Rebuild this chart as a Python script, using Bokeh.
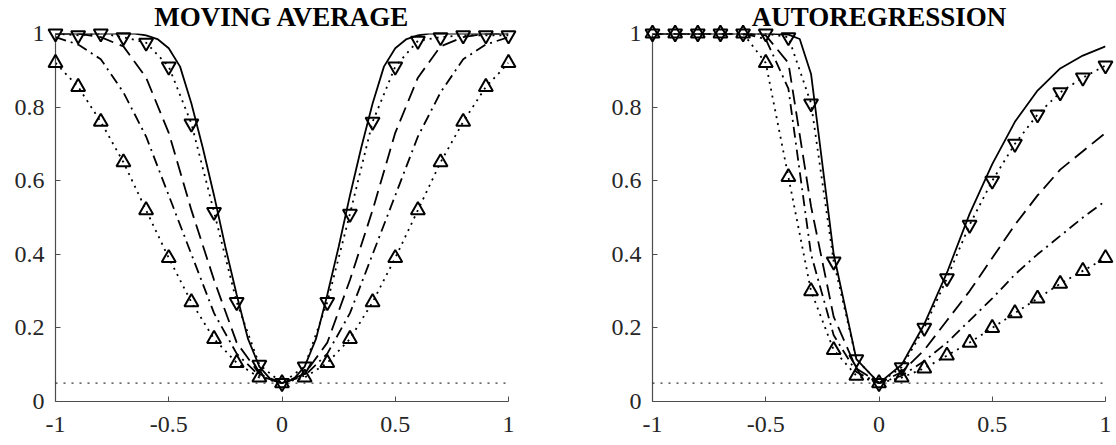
from bokeh.plotting import figure
from bokeh.layouts import row
from bokeh.models import Range1d, FixedTicker, CustomJSTickFormatter, Title, Span
from bokeh.embed import file_html
from bokeh.resources import INLINE

# ---------------- data ----------------
X = [-1.0, -0.9, -0.8, -0.7, -0.6, -0.5, -0.4, -0.3, -0.2, -0.1, 0.0,
     0.1, 0.2, 0.3, 0.4, 0.5, 0.6, 0.7, 0.8, 0.9, 1.0]
X_FINE = [-1.0, -0.95, -0.9, -0.85, -0.8, -0.75, -0.7, -0.65, -0.6, -0.55, -0.5,
          -0.45, -0.4, -0.35, -0.3, -0.25, -0.2, -0.15, -0.1, -0.05, 0.0,
          0.05, 0.1, 0.15, 0.2, 0.25, 0.3, 0.35, 0.4, 0.45, 0.5,
          0.55, 0.6, 0.65, 0.7, 0.75, 0.8, 0.85, 0.9, 0.95, 1.0]

# Moving average panel
ma_solid = [1.0, 1.0, 1.0, 1.0, 1.0, 1.0, 1.0, 1.0, 0.995, 0.985, 0.96,
            0.91, 0.81, 0.69, 0.56, 0.42, 0.29, 0.17, 0.095, 0.06, 0.05,
            0.06, 0.095, 0.17, 0.29, 0.42, 0.56, 0.69, 0.81, 0.91, 0.96,
            0.985, 0.995, 1.0, 1.0, 1.0, 1.0, 1.0, 1.0, 1.0, 1.0]
ma_down = [1.0, 0.995, 1.0, 0.99, 0.975, 0.91, 0.755, 0.515, 0.27, 0.10, 0.05,
           0.095, 0.27, 0.51, 0.76, 0.91, 0.98, 0.99, 0.995, 0.995, 0.995]
ma_dash = [1.0, 1.0, 0.99, 0.965, 0.88, 0.73, 0.52, 0.33, 0.16, 0.075, 0.05,
           0.075, 0.16, 0.33, 0.52, 0.73, 0.88, 0.965, 0.99, 1.0, 1.0]
ma_dashdot = [0.99, 0.97, 0.93, 0.84, 0.72, 0.56, 0.40, 0.24, 0.13, 0.07, 0.05,
              0.07, 0.13, 0.24, 0.40, 0.56, 0.72, 0.84, 0.93, 0.97, 0.99]
ma_up = [0.92, 0.855, 0.76, 0.65, 0.52, 0.39, 0.27, 0.17, 0.105, 0.065, 0.05,
         0.065, 0.105, 0.17, 0.27, 0.39, 0.52, 0.65, 0.76, 0.855, 0.92]

# Autoregression panel
X_AR_SOLID = [-1.0, -0.9, -0.8, -0.7, -0.6, -0.5, -0.4, -0.35, -0.3, -0.2, -0.1, 0.0,
              0.1, 0.2, 0.3, 0.4, 0.5, 0.6, 0.7, 0.8, 0.9, 1.0]
ar_solid = [1.0, 1.0, 1.0, 1.0, 1.0, 1.0, 0.997, 0.985, 0.89, 0.40, 0.115, 0.05,
            0.10, 0.21, 0.35, 0.51, 0.645, 0.76, 0.845, 0.905, 0.94, 0.965]
ar_down = [1.0, 1.0, 1.0, 1.0, 1.0, 1.0, 0.99, 0.81, 0.38, 0.115, 0.05,
           0.093, 0.20, 0.335, 0.48, 0.60, 0.70, 0.78, 0.84, 0.88, 0.913]
ar_dash = [1.0, 1.0, 1.0, 1.0, 1.0, 0.995, 0.92, 0.53, 0.23, 0.09, 0.05,
           0.08, 0.14, 0.22, 0.30, 0.39, 0.48, 0.56, 0.63, 0.68, 0.73]
ar_dashdot = [1.0, 1.0, 1.0, 1.0, 1.0, 0.985, 0.85, 0.40, 0.18, 0.08, 0.05,
              0.07, 0.11, 0.16, 0.22, 0.28, 0.345, 0.40, 0.45, 0.50, 0.545]
ar_up = [1.0, 1.0, 1.0, 1.0, 1.0, 0.92, 0.61, 0.30, 0.14, 0.07, 0.05,
         0.065, 0.09, 0.125, 0.16, 0.20, 0.24, 0.28, 0.32, 0.355, 0.39]

SIG_LEVEL = 0.05
X_TICKS = [-1, -0.5, 0, 0.5, 1]
Y_TICKS = [0, 0.2, 0.4, 0.6, 0.8, 1]
TITLES = ["MOVING AVERAGE", "AUTOREGRESSION"]

FONT = "Liberation Serif"
AXIS_COL = "#4d4d4d"
TEXT_COL = "#262626"


def make_panel(title, solid, down, dash, dashdot, up, solid_x, lb, rb):
    p = figure(width=lb + 453 + rb, height=33 + 368 + 44,
               x_range=Range1d(-1, 1), y_range=Range1d(0, 1),
               output_backend="svg", toolbar_location=None,
               min_border_left=lb, min_border_right=rb,
               min_border_top=33, min_border_bottom=44)
    p.outline_line_color = None
    p.grid.visible = False
    p.background_fill_color = "white"
    p.border_fill_color = "white"

    fmt = CustomJSTickFormatter(code="return tick.toString();")
    for ax, ticks, so in ((p.xaxis[0], X_TICKS, 15), (p.yaxis[0], Y_TICKS, 11)):
        ax.ticker = FixedTicker(ticks=ticks)
        ax.formatter = fmt
        ax.minor_tick_line_color = None
        ax.major_tick_in = 5
        ax.major_tick_out = 0
        ax.axis_line_color = AXIS_COL
        ax.axis_line_width = 1.2
        ax.major_tick_line_color = AXIS_COL
        ax.major_label_text_font = FONT
        ax.major_label_text_font_size = "24px"
        ax.major_label_text_color = TEXT_COL
        ax.major_label_standoff = so

    p.add_layout(Span(location=SIG_LEVEL, dimension="width", line_color="black",
                      line_width=1, line_dash="2 6"))

    p.line(solid_x, solid, line_color="black", line_width=1.8)
    p.line(X, down, line_color="black", line_width=1.8, line_dash="2 5")
    p.line(X, dash, line_color="black", line_width=1.8, line_dash="15 7")
    p.line(X, dashdot, line_color="black", line_width=1.8, line_dash="11 5 2 5")
    p.line(X, up, line_color="black", line_width=1.8, line_dash="2 5")
    p.scatter(X, down, marker="inverted_triangle", size=14, fill_alpha=0,
              line_color="black", line_width=2, level="overlay")
    p.scatter(X, up, marker="triangle", size=14, fill_alpha=0,
              line_color="black", line_width=2, level="overlay")

    p.add_layout(Title(text=title, align="center", vertical_align="top",
                       text_font=FONT, text_font_style="bold",
                       text_font_size="27px", text_color="black",
                       standoff=0, offset=0), "above")
    return p


p1 = make_panel(TITLES[0], ma_solid, ma_down, ma_dash, ma_dashdot, ma_up, X_FINE, 55, 20)
p2 = make_panel(TITLES[1], ar_solid, ar_down, ar_dash, ar_dashdot, ar_up, X_AR_SOLID, 124, 9)

layout = row(p1, p2)
open("out.html", "w").write(file_html(layout, INLINE))
